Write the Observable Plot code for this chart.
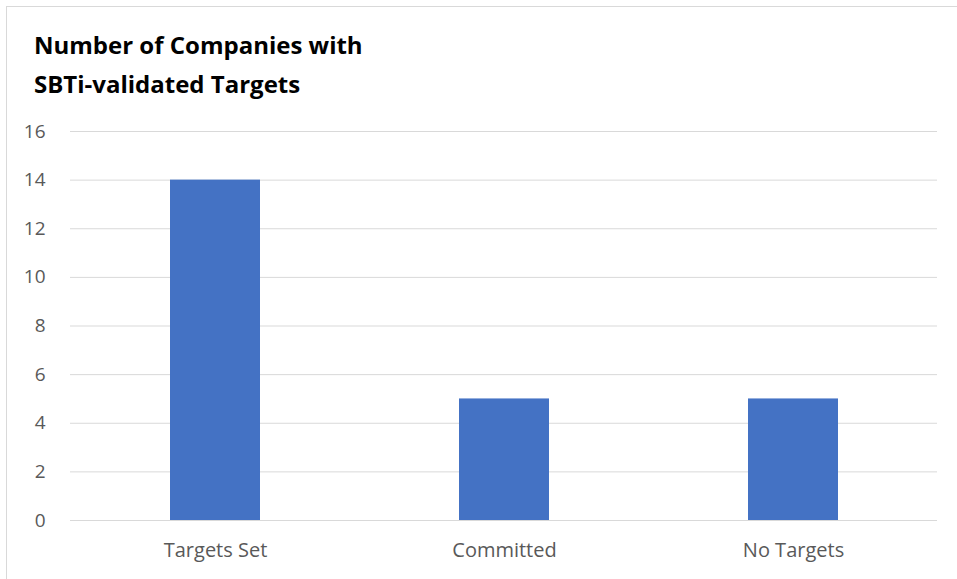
<!DOCTYPE html>
<html>
<head>
<meta charset="utf-8">
<script src="https://cdn.jsdelivr.net/npm/d3@7"></script>
<script src="https://cdn.jsdelivr.net/npm/@observablehq/plot@0.6"></script>
<style>
  html, body { margin: 0; padding: 0; background: #fff; overflow: hidden; }
  #frame { position: absolute; left: 6px; top: 6px; width: 1000px; height: 700px;
           border-left: 1px solid #d9d9d9; border-top: 1px solid #d9d9d9; }
  #wrap { position: absolute; left: 0; top: 0; width: 957px; }
  #title { box-sizing: border-box; height: 110px; padding: 25px 0 0 34px;
           font-family: "Open Sans", Lato, sans-serif; font-weight: bold; font-size: 24px;
           line-height: 39px; color: #000; }
  svg { display: block; }
</style>
</head>
<body>
<div id="frame"></div>
<div id="wrap">
  <div id="title">Number of Companies with<br>SBTi-validated Targets</div>
  <div id="chart"></div>
</div>
<script>
const categories = ["Targets Set", "Committed", "No Targets"];
const values = [14, 5, 5];
const yTicks = [0, 2, 4, 6, 8, 10, 12, 14, 16];

const data = categories.map((c, i) => ({category: c, value: values[i]}));

const chart = Plot.plot({
  width: 957,
  height: 465,
  marginTop: 21,
  marginBottom: 55,
  marginLeft: 70,
  marginRight: 20,
  style: { fontFamily: "'Open Sans', Lato, sans-serif", fontSize: "20px", color: "#595959", background: "transparent" },
  x: { domain: categories, paddingInner: 0.69, paddingOuter: 0.345, label: null },
  y: { domain: [0, 16], label: null },
  marks: [
    Plot.ruleY(yTicks, { stroke: "#d9d9d9", strokeWidth: 1 }),
    Plot.barY(data, { x: "category", y: "value", fill: "#4472C4" }),
    Plot.axisY(yTicks, { tickSize: 0, tickPadding: 25, label: null, fontSize: 19 }),
    Plot.axisX({ tickSize: 0, tickPadding: 22, label: null, fontSize: 20 })
  ]
});
document.getElementById("chart").appendChild(chart);
</script>
</body>
</html>
